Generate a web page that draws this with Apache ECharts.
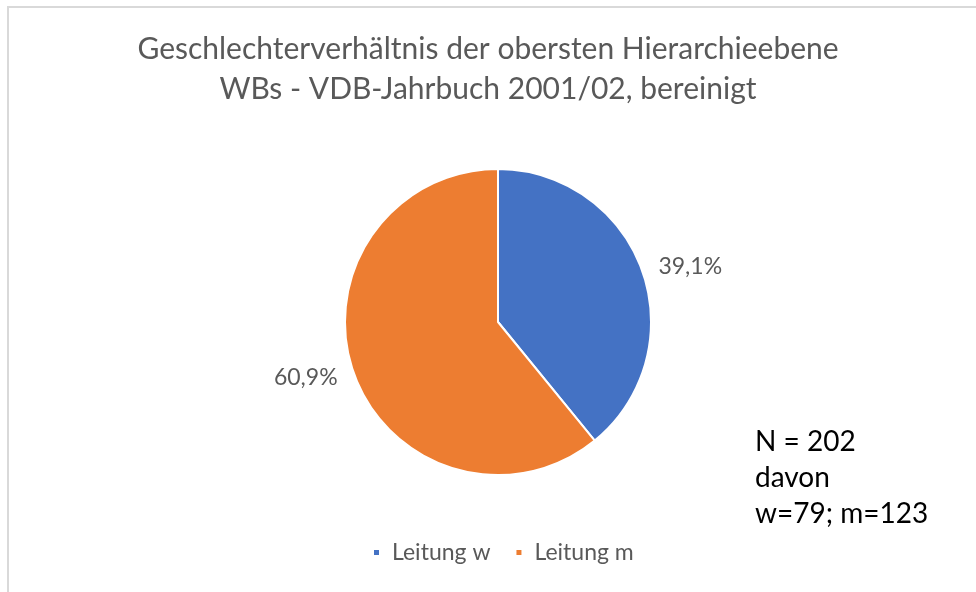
<!DOCTYPE html>
<html>
<head>
<meta charset="utf-8">
<script src="https://cdn.jsdelivr.net/npm/echarts@6/dist/echarts.min.js"></script>
<style>
  html, body { margin: 0; padding: 0; background: #ffffff; }
  #chart { width: 976px; height: 592px; }
</style>
</head>
<body>
<div id="chart"></div>
<script>
// Leitungspositionen nach Geschlecht
const categories = ['Leitung w', 'Leitung m'];
const counts = [79, 123];
const colors = ['#4472C4', '#ED7D31'];
const titleLines = ['Geschlechterverhältnis der obersten Hierarchieebene', 'WBs - VDB-Jahrbuch 2001/02, bereinigt'];
const noteLines = ['N = 202', 'davon', 'w=79; m=123'];

const FONT = 'Lato';

const chart = echarts.init(document.getElementById('chart'), null, { renderer: 'canvas' });

chart.setOption({
  backgroundColor: '#ffffff',
  animation: false,
  title: {
    text: titleLines.join('\n'),
    left: 'center',
    top: 24,
    textStyle: {
      fontFamily: FONT,
      fontSize: 30,
      fontWeight: 'normal',
      color: '#595959',
      lineHeight: 40
    }
  },
  legend: {
    bottom: 23,
    left: 367,
    itemWidth: 7,
    itemHeight: 7,
    itemGap: 24,
    icon: 'rect',
    textStyle: { fontFamily: FONT, fontSize: 23, color: '#595959', padding: [0, 0, 0, 7] },
    data: categories
  },
  graphic: [
    {
      type: 'rect',
      shape: { x: 8, y: 7, width: 1000, height: 620 },
      style: { fill: 'none', stroke: '#d9d9d9', lineWidth: 2 },
      silent: true
    },
    {
      type: 'text',
      left: 755,
      top: 424,
      style: {
        text: noteLines.join('\n'),
        fontFamily: FONT,
        fontSize: 28,
        lineHeight: 36,
        fill: '#000000'
      }
    }
  ],
  series: [{
    type: 'pie',
    center: [498, 322],
    radius: 153,
    startAngle: 90,
    clockwise: true,
    avoidLabelOverlap: false,
    itemStyle: { borderColor: '#ffffff', borderWidth: 2 },
    label: {
      show: true,
      position: 'outside',
      fontFamily: FONT,
      fontSize: 23,
      color: '#595959',
      formatter: p => p.percent.toFixed(1).replace('.', ',') + '%'
    },
    labelLine: { show: false, length: 12, length2: 0 },
    emphasis: { disabled: true },
    data: categories.map((name, i) => ({
      name,
      value: counts[i],
      itemStyle: { color: colors[i] }
    }))
  }]
});
</script>
</body>
</html>
